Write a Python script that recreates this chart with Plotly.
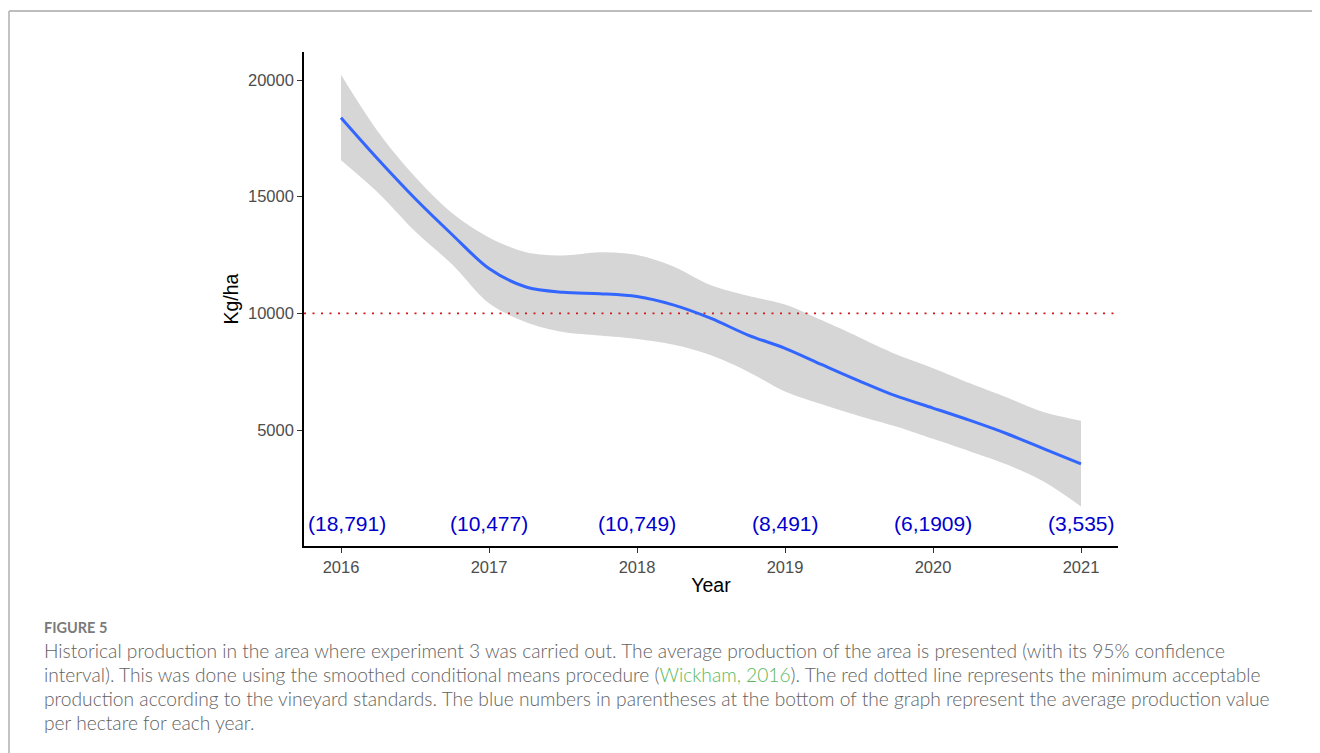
import plotly.graph_objects as go

# ---- data ----
years_grid = [2016, 2016.25, 2016.5, 2016.75, 2017, 2017.25, 2017.5, 2017.75, 2018,
              2018.25, 2018.5, 2018.75, 2019, 2019.25, 2019.5, 2019.75, 2020,
              2020.25, 2020.5, 2020.75, 2021]
fit = [18380, 16600, 14920, 13380, 11920, 11130, 10900, 10840, 10720,
       10350, 9780, 9070, 8500, 7800, 7110, 6460, 5940,
       5410, 4840, 4190, 3550]
upper = [20220, 17780, 15850, 14300, 13250, 12620, 12480, 12620, 12500,
         12000, 11200, 10750, 10380, 9700, 8980, 8250, 7650,
         7000, 6390, 5760, 5400]
lower = [16560, 15170, 13520, 12100, 10430, 9620, 9200, 9050, 8900,
         8650, 8200, 7500, 6650, 6100, 5600, 5150, 4620,
         4080, 3520, 2780, 1720]

label_years = [2016, 2017, 2018, 2019, 2020, 2021]
label_texts = ["(18,791)", "(10,477)", "(10,749)", "(8,491)", "(6,1909)", "(3,535)"]
label_y = 1000
threshold = 10000

x_ticks = [2016, 2017, 2018, 2019, 2020, 2021]
y_ticks = [5000, 10000, 15000, 20000]

caption_title = "FIGURE 5"
caption_lines = [
    "Historical production in the area where experiment 3 was carried out. The average production of the area is presented (with its 95% confidence",
    "interval). This was done using the smoothed conditional means procedure (<span style='color:#5cb85c'>Wickham, 2016</span>). The red dotted line represents the minimum acceptable",
    "production according to the vineyard standards. The blue numbers in parentheses at the bottom of the graph represent the average production value",
    "per hectare for each year.",
]

# page offset (body margin) of 8px is taken into account: figure coords = screen - 8
OFF = 8
W, H = 1320, 753
L, R, T, B = 304 - OFF, 1320 - (1118 - OFF), 52 - OFF, 753 - (546 - OFF)
pw, ph = W - L - R, H - T - B

def px(X):
    return (X - OFF - L) / pw

def py(Y):
    return (H - B - (Y - OFF)) / ph

fig = go.Figure()

# ribbon
fig.add_trace(go.Scatter(x=years_grid, y=upper, mode="lines", line=dict(width=0, shape="spline", smoothing=0.9),
                         hoverinfo="skip", showlegend=False))
fig.add_trace(go.Scatter(x=years_grid, y=lower, mode="lines", line=dict(width=0, shape="spline", smoothing=0.9),
                         fill="tonexty", fillcolor="rgb(214,214,214)", hoverinfo="skip", showlegend=False))
# threshold line
fig.add_trace(go.Scatter(x=[2015.75, 2021.25], y=[threshold, threshold], mode="lines",
                         line=dict(color="#D0191A", width=1.6, dash="2px,6.5px"),
                         showlegend=False, hoverinfo="skip"))
# smooth line
fig.add_trace(go.Scatter(x=years_grid, y=fit, mode="lines",
                         line=dict(color="#3366FF", width=3, shape="spline", smoothing=0.9), showlegend=False))

fig.update_xaxes(range=[2015.75, 2021.25], tickvals=x_ticks, ticktext=[str(v) for v in x_ticks],
                 showgrid=False, zeroline=False, showline=True, linecolor="black", linewidth=1.6,
                 ticks="outside", ticklen=5, tickcolor="#333333", tickwidth=1.2,
                 tickfont=dict(family="Liberation Sans, Arial", size=16.5, color="#4D4D4D"),
                 title=dict(text="Year", font=dict(family="Liberation Sans, Arial", size=19.5, color="black"),
                            standoff=4))
fig.update_yaxes(range=[29, 21200], tickvals=y_ticks, ticktext=[str(v) for v in y_ticks],
                 showgrid=False, zeroline=False, showline=True, linecolor="black", linewidth=1.6,
                 ticks="outside", ticklen=5, tickcolor="#333333", tickwidth=1.2,
                 tickfont=dict(family="Liberation Sans, Arial", size=16.5, color="#4D4D4D"),
                 title=dict(text="Kg/ha", font=dict(family="Liberation Sans, Arial", size=19.5, color="black"),
                            standoff=4))

shapes = [
    dict(type="line", xref="paper", yref="paper", x0=px(9), x1=px(1340), y0=py(11), y1=py(11),
         line=dict(color="#BDBDBD", width=1.8)),
    dict(type="line", xref="paper", yref="paper", x0=px(9), x1=px(9), y0=py(11), y1=py(780),
         line=dict(color="#BDBDBD", width=1.8)),
]

annotations = []
# blue per-year averages
for i, (yr, txt) in enumerate(zip(label_years, label_texts)):
    annotations.append(dict(x=yr, y=label_y, xref="x", yref="y", text=txt, showarrow=False,
                            xanchor="center", yanchor="middle", xshift=6 if i == 0 else 0,
                            font=dict(family="Liberation Sans, Arial", size=21, color="#0000CD")))

annotations.append(dict(xref="paper", yref="paper", x=px(42), y=py(627), xanchor="left", yanchor="middle",
                        text="<b>" + caption_title + "</b>", showarrow=False,
                        font=dict(family="Lato", size=14.5, color="#7A7A7A")))
line_y = [650, 674, 698, 722]
for t, yy in zip(caption_lines, line_y):
    annotations.append(dict(xref="paper", yref="paper", x=px(42), y=py(yy), xanchor="left", yanchor="middle",
                            text=t, showarrow=False, align="left",
                            font=dict(family="Lato", size=19.2, color="#626262", weight=300)))

fig.update_layout(width=W, height=H, margin=dict(l=L, r=R, t=T, b=B),
                  plot_bgcolor="white", paper_bgcolor="white",
                  shapes=shapes, annotations=annotations)

fig.write_html("out.html")
